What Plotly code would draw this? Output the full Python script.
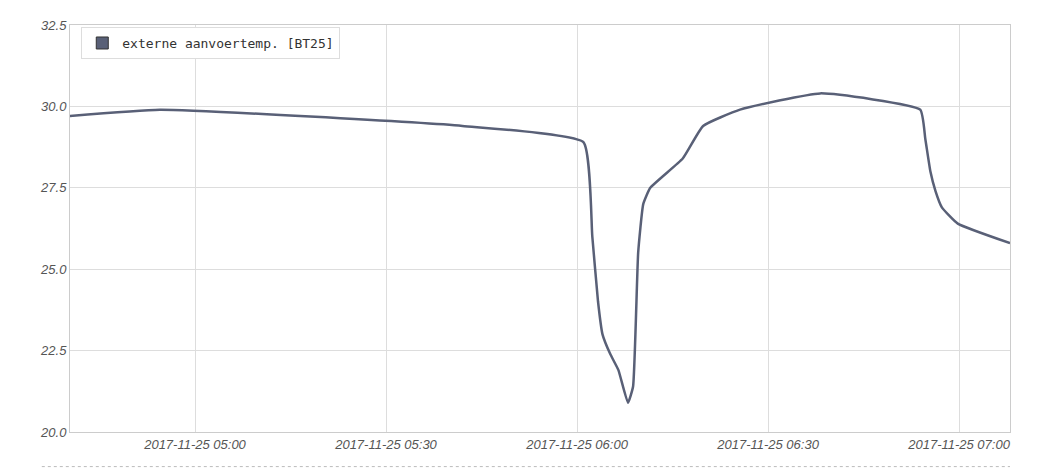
import plotly.graph_objects as go

times = ["2017-11-25 04:40:00","2017-11-25 04:54:30","2017-11-25 05:42:00","2017-11-25 06:01:00",
         "2017-11-25 06:02:24","2017-11-25 06:03:18","2017-11-25 06:04:00","2017-11-25 06:05:12",
         "2017-11-25 06:06:30","2017-11-25 06:08:00","2017-11-25 06:08:48","2017-11-25 06:09:36",
         "2017-11-25 06:10:24","2017-11-25 06:11:30","2017-11-25 06:16:36","2017-11-25 06:19:48",
         "2017-11-25 06:25:36","2017-11-25 06:38:12","2017-11-25 06:53:54","2017-11-25 06:54:42",
         "2017-11-25 06:55:30","2017-11-25 06:56:18","2017-11-25 06:57:18","2017-11-25 06:59:48",
         "2017-11-25 07:08:00"]
temps = [29.7,29.9,29.4,28.9,26.0,24.0,23.0,22.4,21.9,20.9,21.4,25.5,27.0,27.5,28.4,29.4,
         29.9,30.4,29.9,29.0,28.0,27.4,26.9,26.4,25.8]
tick_vals = ["2017-11-25 05:00","2017-11-25 05:30","2017-11-25 06:00","2017-11-25 06:30","2017-11-25 07:00"]
tick_text = ["2017-11-25 05:00","2017-11-25 05:30","2017-11-25 06:00","2017-11-25 06:30","2017-11-25 07:00"]
name = "externe aanvoertemp. [BT25]"
color = "#596077"

fig = go.Figure()
fig.add_trace(go.Scatter(x=times, y=temps, mode="lines", line=dict(color=color, width=2.5, shape="spline", smoothing=0.4),
                         showlegend=False))
fig.add_trace(go.Bar(x=[None], y=[None], name=name, marker=dict(color=color, line=dict(color="#333", width=1))))
fig.update_layout(
    width=1043, height=475, margin=dict(l=62, r=41, t=10, b=51),
    paper_bgcolor="white", plot_bgcolor="white",
    font=dict(family="Liberation Sans, Arial", size=13, color="#555"),
    showlegend=True,
    legend=dict(x=0.012, y=0.995, xanchor="left", yanchor="top", bordercolor="#ddd", borderwidth=1,
                bgcolor="white", font=dict(family="DejaVu Sans Mono", size=13, color="#333")),
    xaxis=dict(range=["2017-11-25 04:40:22","2017-11-25 07:08:00"], tickvals=tick_vals, ticktext=tick_text,
               showgrid=True, gridcolor="#ddd", showline=True, linecolor="#ccc", mirror=True,
               tickfont=dict(style="italic"), zeroline=False),
    yaxis=dict(range=[20, 32.5], tickvals=[20,22.5,25,27.5,30,32.5], ticktext=["20.0","22.5","25.0","27.5","30.0","32.5"],
               showgrid=True, gridcolor="#ddd", showline=True, linecolor="#ccc", mirror=True,
               tickfont=dict(style="italic"), zeroline=False),
    shapes=[dict(type="line", xref="paper", yref="paper", x0=-0.03, x1=1.0, y0=-0.085, y1=-0.085,
                 line=dict(color="#bbb", width=1, dash="dot"))],
)
fig.write_html("out.html")
